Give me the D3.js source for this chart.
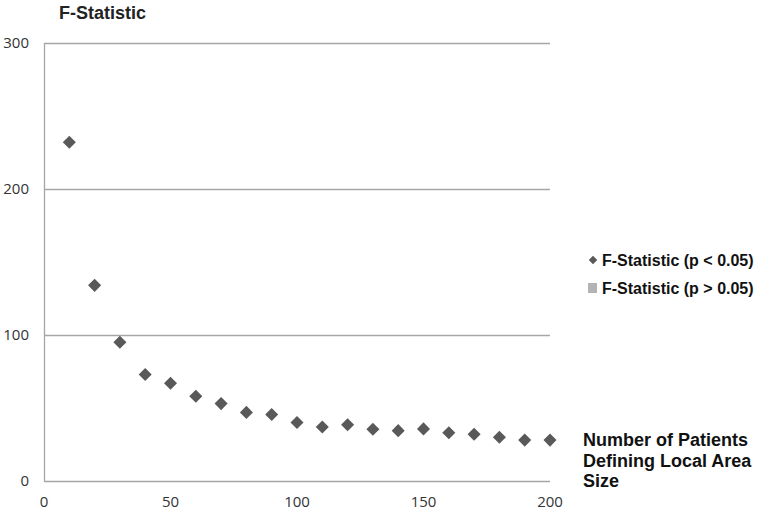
<!DOCTYPE html>
<html>
<head>
<meta charset="utf-8">
<script src="https://cdn.jsdelivr.net/npm/d3@7"></script>
<style>
  body { margin: 0; background: #fff; }
  text { font-family: "Open Sans", "Liberation Sans", sans-serif; }
  .bold { font-family: "Liberation Sans", Arial, sans-serif; font-weight: bold; }
</style>
</head>
<body>
<div id="chart"></div>
<script>
// patients defining local area size
var sizes = [10, 20, 30, 40, 50, 60, 70, 80, 90, 100, 110, 120, 130, 140, 150, 160, 170, 180, 190, 200];
// F-statistic values (all p < 0.05)
var fStat = [232, 134, 95, 73, 67, 58, 53, 47, 45.5, 40, 37, 38.5, 35.5, 34.5, 35.7, 33, 32, 30, 28, 28];
var xTicks = [0, 50, 100, 150, 200];
var yTicks = [0, 100, 200, 300];
var legendLabels = ["F-Statistic (p < 0.05)", "F-Statistic (p > 0.05)"];

var W = 762, H = 513;
var margin = { top: 43, right: 212, bottom: 32, left: 44 };
var width = W - margin.left - margin.right,
    height = H - margin.top - margin.bottom;

var svg = d3.select("#chart").append("svg")
    .attr("width", W)
    .attr("height", H);

var g = svg.append("g")
    .attr("transform", "translate(" + margin.left + "," + margin.top + ")");

var x = d3.scaleLinear().domain([0, 200]).range([0, width]);
var y = d3.scaleLinear().domain([0, 300]).range([height, 0]);

// gridlines
g.selectAll(".grid")
    .data(yTicks)
    .enter()
    .append("line")
    .attr("x1", 0)
    .attr("x2", width)
    .attr("y1", function (d) { return Math.round(y(d)) + 0.5; })
    .attr("y2", function (d) { return Math.round(y(d)) + 0.5; })
    .style("stroke", "#a6a6a6")
    .style("stroke-width", 1.3);

// left axis line
g.append("line")
    .attr("x1", 0.5).attr("x2", 0.5)
    .attr("y1", 0).attr("y2", height)
    .style("stroke", "#a6a6a6")
    .style("stroke-width", 1.3);

// y tick labels
g.selectAll(".ylab")
    .data(yTicks)
    .enter()
    .append("text")
    .attr("x", -15)
    .attr("y", function (d) { return y(d); })
    .attr("dy", "0.35em")
    .attr("text-anchor", "end")
    .style("font-size", "15px")
    .style("fill", "#333")
    .text(function (d) { return d; });

// x tick labels
g.selectAll(".xlab")
    .data(xTicks)
    .enter()
    .append("text")
    .attr("x", function (d) { return x(d); })
    .attr("y", height + 21)
    .attr("dy", "0.35em")
    .attr("text-anchor", "middle")
    .style("font-size", "15px")
    .style("fill", "#333")
    .text(function (d) { return d; });

// diamonds
var diamond = d3.symbol().type(d3.symbolSquare).size(85);
g.selectAll(".pt")
    .data(sizes)
    .enter()
    .append("path")
    .attr("d", diamond)
    .attr("transform", function (d, i) {
        return "translate(" + x(d) + "," + y(fStat[i]) + ") rotate(45)";
    })
    .style("fill", "#595959");

// title
svg.append("text")
    .attr("class", "bold")
    .attr("x", 59)
    .attr("y", 18.5)
    .style("font-size", "18px")
    .style("fill", "#222")
    .text("F-Statistic");

// x axis title
var xt = svg.append("text")
    .attr("class", "bold")
    .attr("x", 583)
    .attr("y", 446)
    .style("font-size", "18px")
    .style("fill", "#111");
["Number of Patients", "Defining Local Area", "Size"].forEach(function (s, i) {
    xt.append("tspan").attr("x", 583).attr("dy", i === 0 ? 0 : 20.5).text(s);
});

// legend
var leg = svg.append("g").attr("transform", "translate(593,260)");
leg.append("path")
    .attr("d", d3.symbol().type(d3.symbolSquare).size(36))
    .attr("transform", "rotate(45)")
    .style("fill", "#595959");
leg.append("rect")
    .attr("x", -5).attr("y", 23)
    .attr("width", 9).attr("height", 10)
    .style("fill", "#b3b3b3");
leg.selectAll(".lt")
    .data(legendLabels)
    .enter()
    .append("text")
    .attr("class", "bold")
    .attr("x", 9)
    .attr("y", function (d, i) { return i * 28; })
    .attr("dy", "0.35em")
    .style("font-size", "16px")
    .style("fill", "#111")
    .text(function (d) { return d; });
</script>
</body>
</html>
